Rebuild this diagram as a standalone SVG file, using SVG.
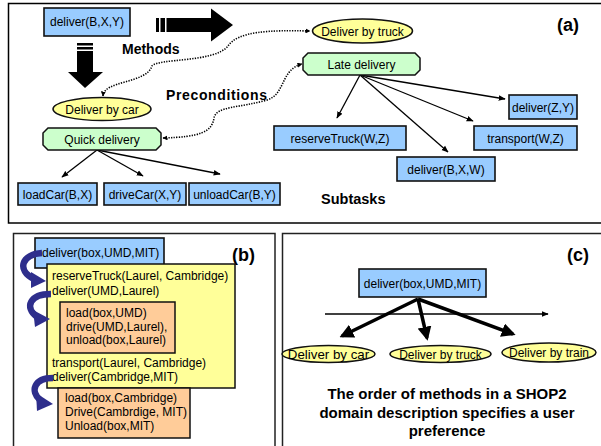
<svg xmlns="http://www.w3.org/2000/svg" width="601" height="446" viewBox="0 0 601 446">
<defs>
<style>
text{font-family:"Liberation Sans",Arial,sans-serif;fill:#000}
.t{font-size:12px}
.tm{text-anchor:middle}
.b{font-weight:bold}
.blue{fill:#99ccff;stroke:#111;stroke-width:1.6}
.yel{fill:#ffff99;stroke:#111;stroke-width:1.5}
.grn{fill:#ccffcc;stroke:#111;stroke-width:1.5}
.org{fill:#ffcc99;stroke:#111;stroke-width:1.5}
.panel{fill:#fff;stroke:#222;stroke-width:1.5}
.ln{stroke:#000;stroke-width:1.3;fill:none}
.dot{stroke:#000;stroke-width:1.6;fill:none;stroke-dasharray:1.3 1.3}
.thick{stroke:#000;stroke-width:3.5;fill:none}
.navy{fill:none;stroke:#2e2e8c;stroke-width:6.5}
</style>
<marker id="ah" viewBox="0 0 10 10" refX="9" refY="5" markerWidth="7" markerHeight="7" orient="auto" markerUnits="userSpaceOnUse"><path d="M0,1 L10,5 L0,9 z" fill="#000"/></marker>
<marker id="ahs" viewBox="0 0 10 10" refX="9" refY="5" markerWidth="5" markerHeight="5" orient="auto-start-reverse" markerUnits="userSpaceOnUse"><path d="M0,0 L10,5 L0,10 z" fill="#000"/></marker>
<marker id="ahb" viewBox="0 0 10 10" refX="8" refY="5" markerWidth="14" markerHeight="14" orient="auto" markerUnits="userSpaceOnUse"><path d="M0,0 L10,5 L0,10 z" fill="#000"/></marker>
</defs>
<rect width="601" height="446" fill="#fff"/>

<!-- Panels -->
<g id="panel-a"><rect class="panel" x="8.5" y="3.5" width="600" height="219.5" style="stroke:#000"/></g>
<g id="panel-b"><rect class="panel" x="13.5" y="233.5" width="261.5" height="220"/></g>
<g id="panel-c"><rect class="panel" x="282.5" y="233.5" width="330" height="220"/></g>

<!-- Panel (a) -->
<text class="b" x="557" y="31" style="font-size:18px">(a)</text>
<text class="b" x="122" y="54" style="font-size:14px">Methods</text>
<text class="b" x="166" y="100" style="font-size:14px" textLength="101">Preconditions</text>
<text class="b" x="321" y="204" style="font-size:14.5px">Subtasks</text>

<g id="big-arrows">
<rect x="156" y="18" width="3" height="14" fill="#000"/>
<rect x="160.5" y="18" width="4.5" height="14" fill="#000"/>
<polygon points="166.5,18 211,18 211,8.5 233,25 211,41.5 211,32 166.5,32" fill="#000"/>
<rect x="77" y="43" width="16" height="2.5" fill="#000"/>
<rect x="77" y="47" width="16" height="2.5" fill="#000"/>
<polygon points="77,51 93,51 93,72 103,72 85,88 68,72 77,72" fill="#000"/>
</g>

<g id="connectors-a">
<path class="dot" d="M103,96 C104,80 146,84 152,66 C158,58 214,63 228,46 C238,31 270,30 310,31" marker-start="url(#ahs)" marker-end="url(#ahs)"/>
<path class="dot" d="M163,138 C200,137 212,132 214,118 C216,106 240,108 267,100 C286,94 280,70 302,64" marker-start="url(#ahs)" marker-end="url(#ahs)"/>
<line class="ln" x1="97" y1="150" x2="62" y2="177" marker-end="url(#ah)"/>
<line class="ln" x1="97" y1="150" x2="143" y2="176" marker-end="url(#ah)"/>
<line class="ln" x1="97" y1="150" x2="220" y2="174" marker-end="url(#ah)"/>
<line class="ln" x1="360" y1="75" x2="337" y2="118" marker-end="url(#ah)"/>
<line class="ln" x1="360" y1="75" x2="448" y2="152" marker-end="url(#ah)"/>
<line class="ln" x1="360" y1="75" x2="473" y2="121" marker-end="url(#ah)"/>
<line class="ln" x1="360" y1="75" x2="505" y2="99" marker-end="url(#ah)"/>
</g>

<g id="n-deliverBXY"><rect class="blue" x="44" y="8" width="86" height="28"/><text class="t tm" x="87" y="26">deliver(B,X,Y)</text></g>
<g id="n-bycar"><ellipse class="yel" cx="102" cy="109" rx="49" ry="11.5"/><text class="t tm" x="102" y="113.5">Deliver by car</text></g>
<g id="n-quick"><polygon class="grn" points="48,128 156,128 161,133 161,145 156,150 48,150 43,145 43,133"/><text class="t tm" x="102" y="143.5">Quick delivery</text></g>
<g id="n-loadcar"><rect class="blue" x="18" y="183" width="79" height="22"/><text class="t tm" x="57.5" y="198.5">loadCar(B,X)</text></g>
<g id="n-drivecar"><rect class="blue" x="104" y="183" width="82" height="22"/><text class="t tm" x="145" y="198.5">driveCar(X,Y)</text></g>
<g id="n-unloadcar"><rect class="blue" x="189" y="183" width="91" height="22"/><text class="t tm" x="234.5" y="198.5">unloadCar(B,Y)</text></g>
<g id="n-bytruck"><ellipse class="yel" cx="362.5" cy="31" rx="50" ry="12"/><text class="t tm" x="362.5" y="35.5">Deliver by truck</text></g>
<g id="n-late"><polygon class="grn" points="308,53 415,53 420,58 420,70 415,75 308,75 303,70 303,58"/><text class="t tm" x="361.5" y="68.5">Late delivery</text></g>
<g id="n-deliverZY"><rect class="blue" x="509" y="95" width="68" height="24"/><text class="t tm" x="543" y="111.5">deliver(Z,Y)</text></g>
<g id="n-reserve"><rect class="blue" x="274" y="126" width="132" height="24"/><text class="t tm" x="340" y="142.5">reserveTruck(W,Z)</text></g>
<g id="n-transport"><rect class="blue" x="474" y="126" width="103" height="24"/><text class="t tm" x="525.5" y="142.5">transport(W,Z)</text></g>
<g id="n-deliverBXW"><rect class="blue" x="397" y="157" width="98" height="24"/><text class="t tm" x="446" y="173.5">deliver(B,X,W)</text></g>

<!-- Panel (b) -->
<text class="b" x="232" y="261" style="font-size:18px">(b)</text>
<g id="b-top"><rect class="blue" x="35" y="238" width="129" height="30"/><text class="t" x="42" y="257">deliver(box,UMD,MIT)</text></g>
<g id="b-yellow"><rect class="yel" x="47" y="264" width="188" height="124"/>
<text class="t" x="52" y="280">reserveTruck(Laurel, Cambridge)</text>
<text class="t" x="52" y="295">deliver(UMD,Laurel)</text>
<text class="t" x="52" y="367">transport(Laurel, Cambridge)</text>
<text class="t" x="52" y="381">deliver(Cambridge,MIT)</text></g>
<g id="b-orange1"><rect class="org" x="60" y="302" width="115" height="51"/>
<text class="t" x="66" y="317">load(box,UMD)</text>
<text class="t" x="66" y="330.5">drive(UMD,Laurel),</text>
<text class="t" x="66" y="344">unload(box,Laurel)</text></g>
<g id="b-orange2"><rect class="org" x="58" y="388" width="132" height="50"/>
<text class="t" x="65" y="402">load(box,Cambridge)</text>
<text class="t" x="65" y="416">Drive(Cambrdige, MIT)</text>
<text class="t" x="65" y="429.5">Unload(box,MIT)</text></g>
<g id="b-curved-arrows">
<path class="navy" d="M42,253 C22,254 16,270 34,279"/>
<polygon points="31,272 46,281 31,288" fill="#2e2e8c"/>
<path class="navy" d="M51,294 C30,294 24,307 37,317"/>
<polygon points="33,310 50,319 35,327" fill="#2e2e8c"/>
<path class="navy" d="M53,378 C34,378 30,391 40,400"/>
<polygon points="36,393 53,404 37,411" fill="#2e2e8c"/>
</g>

<!-- Panel (c) -->
<text class="b" x="567" y="261" style="font-size:18px">(c)</text>
<g id="connectors-c">
<line class="ln" x1="325" y1="314" x2="548" y2="314" marker-end="url(#ah)" style="stroke-width:1.5"/>
<line class="thick" x1="418" y1="299" x2="342" y2="336" marker-end="url(#ahb)"/>
<line class="thick" x1="418" y1="299" x2="427" y2="338" marker-end="url(#ahb)"/>
<line class="thick" x1="418" y1="299" x2="513" y2="334" marker-end="url(#ahb)"/>
</g>
<g id="c-deliver"><rect class="blue" x="359" y="269" width="127" height="28"/><text class="t tm" x="422.5" y="288">deliver(box,UMD,MIT)</text></g>
<g id="c-bycar"><ellipse class="yel" cx="328.5" cy="354" rx="46.5" ry="8.5"/><text class="tm" x="328.5" y="358.5" style="font-size:13.3px">Deliver by car</text></g>
<g id="c-bytruck"><ellipse class="yel" cx="440.5" cy="354" rx="50.5" ry="8.5"/><text class="t tm" x="440.5" y="358.5">Deliver by truck</text></g>
<g id="c-bytrain"><ellipse class="yel" cx="549" cy="352.5" rx="47" ry="9.5"/><text class="t tm" x="549" y="357">Deliver by train</text></g>
<text class="b tm" x="447" y="399" style="font-size:15px">The order of methods in a SHOP2</text>
<text class="b tm" x="447" y="418" style="font-size:15px">domain description specifies a user</text>
<text class="b tm" x="447" y="436" style="font-size:15px">preference</text>
</svg>
